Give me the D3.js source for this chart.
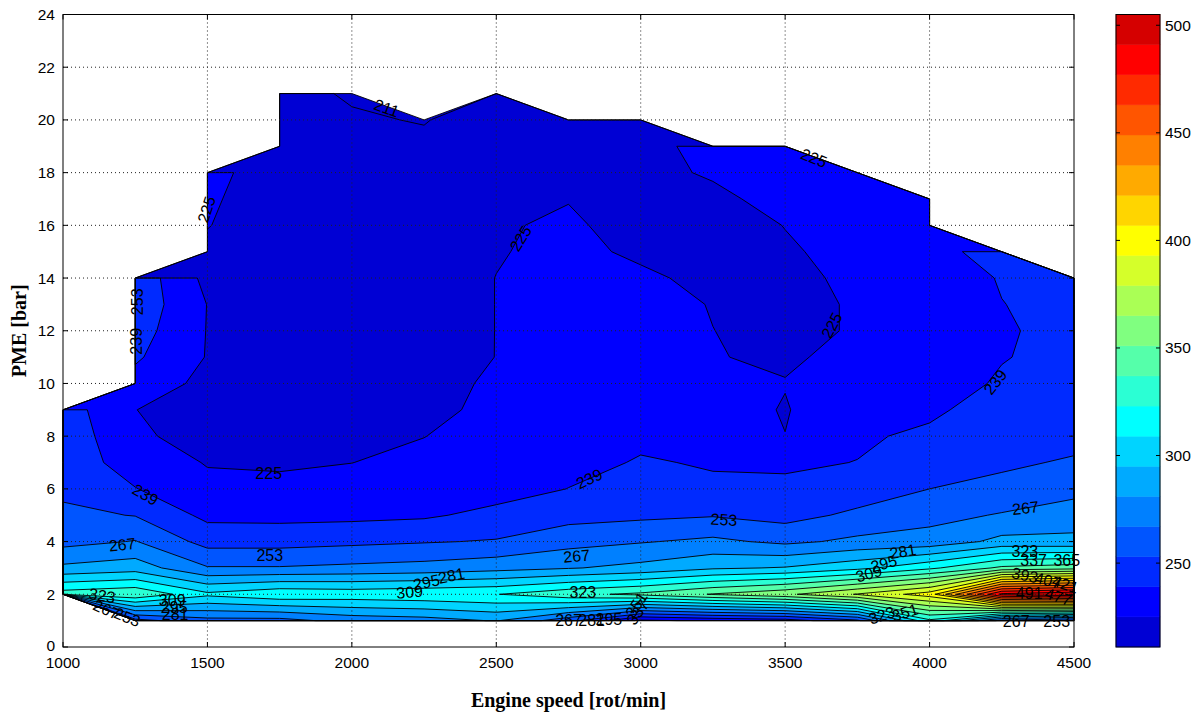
<!DOCTYPE html>
<html><head><meta charset="utf-8">
<script src="https://cdn.jsdelivr.net/npm/d3@7"></script>
<style>body{margin:0;background:#fff}svg{display:block}</style>
</head><body>
<svg id="chart" width="1195" height="715"></svg>
<script>
// ---------------- DATA ----------------
const speeds = [1000,1250,1500,1750,2000,2250,2500,2750,3000,3250,3500,3750,4000,4250,4500];
const pmeRows = [1,2,3,4,5,6,7,8,9,10,11,12,13,14,15,16,17,18,19,20,21];
// BSFC [g/kWh] per engine speed column, rows PME 1..21 (null = outside operating map)
const bsfc1000 = [null,330,284,262.5,256,250,248,247,246,null,null,null,null,null,null,null,null,null,null,null,null];
const bsfc1250 = [248,335,288.5,267.7,252.5,239.5,232,228.8,225.2,234,241,245.2,248.5,248.5,null,null,null,null,null,null,null];
const bsfc1500 = [262,312,268,248,235.5,228,224.3,216.5,218,221.1,224.3,224.5,224.7,221.2,222,225.5,227,229,null,null,null];
const bsfc1750 = [262,320,268,248,235,228,223.4,220,218,217,217,217,217,217,217,217,217.5,218,217,215,214];
const bsfc2000 = [272,318,270,250,235.5,229,224.9,220,217,215,214,214,214,214,214,214,214,214,213,212,210];
const bsfc2250 = [275,320,272,252,237,231,228,224.8,221,219,218,217,217,217,217,217,216,215,213,210.5,null];
const bsfc2500 = [282,322.5,276,254,243,233,231,230,228.7,227.6,225.2,225.2,225.2,225.2,224,223,222,221,219,216,214];
const bsfc2750 = [258,333,280,262,248,239.2,235,233,232,231,230,230,230,230,229,228,224.25,221,219,218,null];
const bsfc3000 = [222,340,285,266,250,243,240,236.5,234,232,231,230,229,227.7,222.3,217.3,216,220,221,218,null];
const bsfc3250 = [228,352,293,270,252,241,238,234,232,229,225.6,225.1,224.5,221,220,219,221,227,229,null,null];
const bsfc3500 = [232,362,296,264,248,241,237.5,225.2,224,225.6,223,222,222,222.5,223.5,225.3,231,232,233,null,null];
const bsfc3750 = [250,380,305,270,256,245,239.2,237.5,237,231,229,226,226,227,229,231,233,234,null,null,null];
const bsfc4000 = [320,400,320,272,263,253,244,241,237,234,232,231,230,233,234,233,235,null,null,null,null];
const bsfc4250 = [262,495,340,285,268,258,250,245,244,240.25,238.5,238.3,238.8,239.7,245,null,null,null,null,null,null];
const bsfc4500 = [250,504,345,284,275,262,255,247.3,246,244,242,241,242,244,null,null,null,null,null,null,null];
const columns = [bsfc1000,bsfc1250,bsfc1500,bsfc1750,bsfc2000,bsfc2250,bsfc2500,bsfc2750,bsfc3000,bsfc3250,bsfc3500,bsfc3750,bsfc4000,bsfc4250,bsfc4500];

const levels = [211,225,239,253,267,281,295,309,323,337,351,365,379,393,407,421,435,449,463,477,491,505];
const xTicks = [1000,1500,2000,2500,3000,3500,4000,4500];
const yTicks = [0,2,4,6,8,10,12,14,16,18,20,22,24];
const cbTicks = [250,300,350,400,450,500];
// contour labels: [text, speed, pme, angle]
const contourLabels = [
  ["211",2120,20.45,20],["225",1497,16.6,-72],["225",2585,15.5,-58],["225",3600,18.55,22],
  ["225",3662,12.2,-62],["225",1712,6.6,0],["239",1285,5.78,30],["239",2822,6.38,-25],
  ["239",4228,10.05,-52],["239",1253,11.6,-90],["253",1258,13.1,-90],
  ["253",1716,3.48,0],["253",3288,4.83,3],["267",1205,3.88,-6],["267",2778,3.45,-5],
  ["267",4332,5.27,-6],["281",2345,2.7,-12],["295",2258,2.45,-12],["309",2200,2.08,-5],
  ["323",2800,2.08,0],["309",3790,2.78,-15],["295",3842,3.16,-15],["281",3908,3.62,-10],
  ["323",1135,1.95,10],["309",1378,1.78,0],["295",1385,1.5,0],["281",1388,1.22,0],
  ["267",1150,1.42,24],["253",1222,1.13,22],["267",2750,1.02,0],["281",2830,1.02,0],
  ["295",2890,1.04,0],["337",2990,1.32,-55],["351",2985,1.6,-58],
  ["323",3835,1.2,-18],["351",3915,1.3,-18],["323",4330,3.62,0],["337",4360,3.3,0],
  ["365",4475,3.28,0],["393",4330,2.72,12],["407",4410,2.52,14],["421",4470,2.38,18],
  ["491",4345,2.05,0],["477",4445,1.9,18],["267",4300,0.97,0],["253",4440,0.97,0]
];

// ---------------- LAYOUT ----------------
const svg = d3.select("#chart");
const plot = {l:63, r:1074, t:14.5, b:647};
const x = d3.scaleLinear().domain([1000,4500]).range([plot.l, plot.r]);
const y = d3.scaleLinear().domain([0,24]).range([plot.b, plot.t]);
const cb = {l:1116, r:1160};
const cy = d3.scaleLinear().domain([levels[0], levels[levels.length-1]]).range([plot.b, plot.t]);

function jet(k, n){ // MATLAB jet(n), index k (0-based)
  const t = (k + 2) / (n + 3);
  const c = v => Math.max(0, Math.min(1, v));
  const r = c(1.5 - Math.abs(4*t - 3)), g = c(1.5 - Math.abs(4*t - 2)), b = c(1.5 - Math.abs(4*t - 1));
  return d3.rgb(r*255, g*255, b*255).formatHex();
}
const nBands = levels.length - 1;
const bandColor = k => jet(k, nBands);

// ---------------- GRID + CONTOURS ----------------
const nx = speeds.length + 2, ny = pmeRows.length + 2;
const grid = new Array(nx*ny).fill(NaN);
columns.forEach((col,i) => col.forEach((v,j) => { if (v != null) grid[(j+1)*nx + (i+1)] = v; }));
const colToSpeed = d3.scaleLinear().domain([1.5, nx-1.5]).range([speeds[0], speeds[speeds.length-1]]);
const rowToPme = d3.scaleLinear().domain([1.5, ny-1.5]).range([pmeRows[0], pmeRows[pmeRows.length-1]]);

const thresholds = [0].concat(levels.slice(0, -1));
const contours = d3.contours().size([nx, ny]).smooth(false).thresholds(thresholds)(grid);

function val(i){ const v = grid[i]; return (v == null || isNaN(v)) ? -Infinity : v; }
function smooth1(p, v0, v1, t){
  const a = t - v0, b = v1 - v0;
  const d = (isFinite(a) || isFinite(b)) ? a / b : Math.sign(a) / Math.sign(b);
  return isNaN(d) ? p : p + d - 0.5;
}
contours.forEach(c => c.coordinates.forEach(poly => poly.forEach(ring => ring.forEach(pt => {
  const px = pt[0], py = pt[1], xt = Math.floor(px), yt = Math.floor(py);
  if (px > 0 && px < nx && xt === px) pt[0] = smooth1(px, val(yt*nx + xt - 1), val(yt*nx + xt), c.value);
  if (py > 0 && py < ny && yt === py) pt[1] = smooth1(py, val((yt-1)*nx + xt), val(yt*nx + xt), c.value);
}))));

function geomPath(c){
  let s = "";
  c.coordinates.forEach(poly => poly.forEach(ring => {
    s += "M" + ring.map(p => x(colToSpeed(p[0])).toFixed(2) + "," + y(rowToPme(p[1])).toFixed(2)).join("L") + "Z";
  }));
  return s;
}

const gFill = svg.append("g");
contours.forEach(c => {
  const k = Math.max(0, levels.indexOf(c.value));
  gFill.append("path").attr("d", geomPath(c)).attr("fill", bandColor(k))
    .attr("fill-rule", "evenodd").attr("stroke", "none");
});
const gLines = svg.append("g");
contours.forEach(c => {
  gLines.append("path").attr("d", geomPath(c)).attr("fill", "none")
    .attr("stroke", "#000").attr("stroke-width", 0.9).attr("stroke-linejoin", "round");
});

// ---------------- GRID LINES ----------------
const gGrid = svg.append("g").attr("stroke", "#222").attr("stroke-width", 1).attr("stroke-dasharray", "1,3");
xTicks.slice(1, -1).forEach(v => gGrid.append("line").attr("x1", x(v)).attr("x2", x(v)).attr("y1", plot.t).attr("y2", plot.b));
yTicks.slice(1, -1).forEach(v => gGrid.append("line").attr("y1", y(v)).attr("y2", y(v)).attr("x1", plot.l).attr("x2", plot.r));

// ---------------- LABELS ----------------
const gLab = svg.append("g").attr("font-family", "Liberation Sans, Arial, sans-serif").attr("fill", "#000");
contourLabels.forEach(([t, s, p, a]) => {
  gLab.append("text").attr("x", 0).attr("y", 0).style("font-size", "16px")
    .attr("transform", `translate(${x(s).toFixed(1)},${y(p).toFixed(1)}) rotate(${a})`)
    .attr("text-anchor", "middle").attr("dominant-baseline", "central").text(t);
});

// ---------------- AXES ----------------
const gAx = svg.append("g").attr("font-family", "Liberation Sans, Arial, sans-serif").attr("font-size", 15.5).attr("fill", "#000");
svg.append("rect").attr("x", plot.l).attr("y", plot.t).attr("width", plot.r - plot.l).attr("height", plot.b - plot.t)
  .attr("fill", "none").attr("stroke", "#000").attr("stroke-width", 1);
const tk = 5;
xTicks.forEach(v => {
  gAx.append("line").attr("x1", x(v)).attr("x2", x(v)).attr("y1", plot.b).attr("y2", plot.b - tk).attr("stroke", "#000");
  gAx.append("line").attr("x1", x(v)).attr("x2", x(v)).attr("y1", plot.t).attr("y2", plot.t + tk).attr("stroke", "#000");
  gAx.append("text").attr("x", x(v)).attr("y", plot.b + 21).attr("text-anchor", "middle").text(v);
});
yTicks.forEach(v => {
  gAx.append("line").attr("x1", plot.l).attr("x2", plot.l + tk).attr("y1", y(v)).attr("y2", y(v)).attr("stroke", "#000");
  gAx.append("line").attr("x1", plot.r).attr("x2", plot.r - tk).attr("y1", y(v)).attr("y2", y(v)).attr("stroke", "#000");
  gAx.append("text").attr("x", plot.l - 8).attr("y", y(v) - (v === 0 ? 2 : 0)).attr("text-anchor", "end").attr("dominant-baseline", "central").text(v);
});
svg.append("text").attr("x", (plot.l + plot.r)/2).attr("y", 707).attr("text-anchor", "middle")
  .attr("font-family", "Liberation Serif, Times New Roman, serif").attr("font-weight", "bold").attr("font-size", 20)
  .text("Engine speed [rot/min]");
svg.append("text").attr("transform", `translate(26,${(plot.t + plot.b)/2}) rotate(-90)`).attr("text-anchor", "middle")
  .attr("font-family", "Liberation Serif, Times New Roman, serif").attr("font-weight", "bold").attr("font-size", 20)
  .text("PME [bar]");

// ---------------- COLORBAR ----------------
const gCb = svg.append("g");
for (let k = 0; k < nBands; k++) {
  gCb.append("rect").attr("x", cb.l).attr("width", cb.r - cb.l)
    .attr("y", cy(levels[k+1])).attr("height", cy(levels[k]) - cy(levels[k+1]))
    .attr("fill", bandColor(k)).attr("stroke", bandColor(k)).attr("stroke-width", 0.5);
}
gCb.append("rect").attr("x", cb.l).attr("y", plot.t).attr("width", cb.r - cb.l).attr("height", plot.b - plot.t)
  .attr("fill", "none").attr("stroke", "#000");
cbTicks.forEach(v => {
  gCb.append("line").attr("x1", cb.l).attr("x2", cb.l + 4).attr("y1", cy(v)).attr("y2", cy(v)).attr("stroke", "#000");
  gCb.append("line").attr("x1", cb.r).attr("x2", cb.r - 4).attr("y1", cy(v)).attr("y2", cy(v)).attr("stroke", "#000");
  gCb.append("text").attr("x", cb.r + 5).attr("y", cy(v)).attr("dominant-baseline", "central")
    .attr("font-family", "Liberation Sans, Arial, sans-serif").attr("font-size", 15.5).text(v);
});
</script>
</body></html>
